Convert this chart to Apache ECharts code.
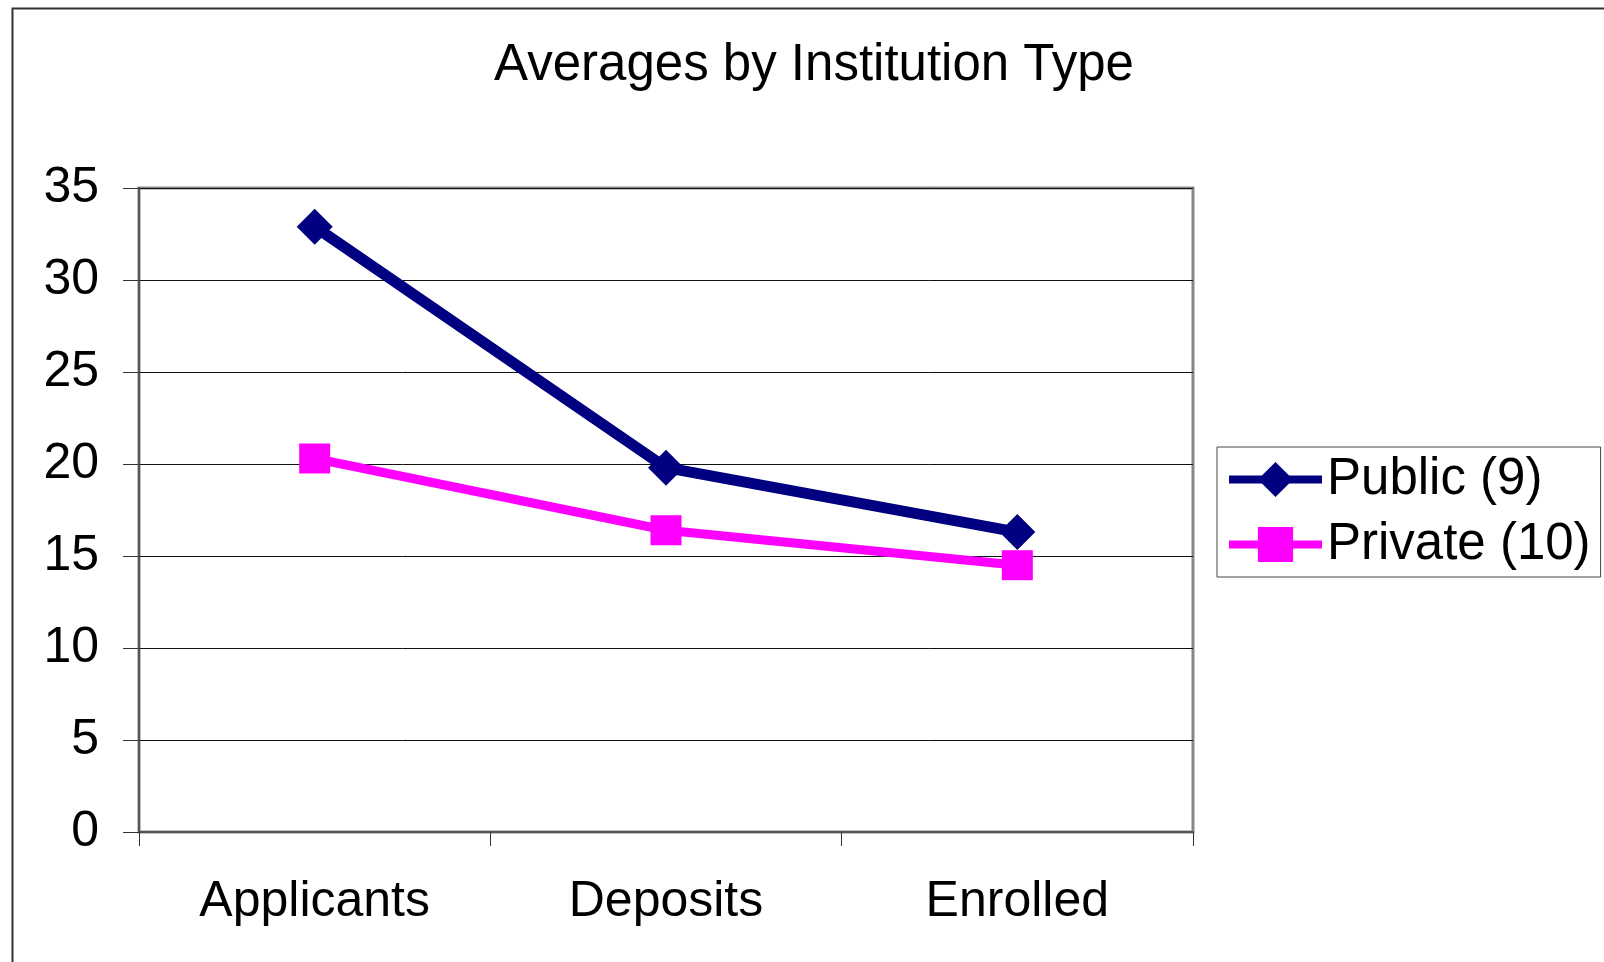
<!DOCTYPE html>
<html>
<head>
<meta charset="utf-8">
<script src="https://cdn.jsdelivr.net/npm/echarts@6/dist/echarts.min.js"></script>
<style>
html,body{margin:0;padding:0;background:#fff;}
#chart{width:1604px;height:962px;}
</style>
</head>
<body>
<div id="chart"></div>
<script>
const categories = ['Applicants', 'Deposits', 'Enrolled'];
const publicValues = [32.9, 19.8, 16.3];
const privateValues = [20.3, 16.4, 14.5];
const seriesNames = ['Public (9)', 'Private (10)'];
const titleText = 'Averages by Institution Type';

const FONT = '"Liberation Sans", Arial, sans-serif';
const chart = echarts.init(document.getElementById('chart'), null, {renderer: 'canvas'});
chart.setOption({
  backgroundColor: '#fff',
  animation: false,
  title: {
    text: titleText,
    left: 809,
    top: 36,
    textAlign: 'center',
    textStyle: {fontFamily: FONT, fontSize: 51, fontWeight: 'normal', color: '#000', lineHeight: 50}
  },
  graphic: [{
    type: 'rect', left: 10, top: 6, z: -1,
    shape: {x: 0, y: 0, width: 1610, height: 980},
    style: {fill: 'none', stroke: '#333', lineWidth: 2}
  }],
  legend: {
    orient: 'vertical',
    left: 1217,
    top: 447,
    padding: [7, 10, 7, 8],
    itemGap: 14,
    itemWidth: 93,
    itemHeight: 44,
    borderColor: '#444',
    borderWidth: 1,
    backgroundColor: '#fff',
    lineStyle: {width: 8},
    textStyle: {fontFamily: FONT, fontSize: 51, color: '#000', lineHeight: 50, padding: [0, 0, 0, 0]},
    data: seriesNames
  },
  grid: {
    left: 139, right: 411, top: 188, bottom: 130,
    show: true, borderColor: '#888', borderWidth: 3, backgroundColor: '#fff',
    containLabel: false
  },
  xAxis: {
    type: 'category',
    data: categories,
    boundaryGap: true,
    axisLine: {show: true, lineStyle: {color: '#555', width: 2}},
    axisTick: {show: true, length: 14, inside: false, lineStyle: {color: '#333', width: 1}},
    axisLabel: {fontFamily: FONT, fontSize: 50, color: '#000', margin: 45, lineHeight: 50},
    splitLine: {show: false}
  },
  yAxis: {
    type: 'value',
    min: 0, max: 35, interval: 5,
    axisLine: {show: true, lineStyle: {color: '#555', width: 2}},
    axisTick: {show: true, length: 16, inside: false, lineStyle: {color: '#333', width: 1}},
    axisLabel: {fontFamily: FONT, fontSize: 50, color: '#000', margin: 40},
    splitLine: {show: true, lineStyle: {color: '#111', width: 1}}
  },
  series: [
    {
      name: seriesNames[0],
      type: 'line',
      data: publicValues,
      symbol: 'diamond',
      symbolSize: 36,
      color: '#000080',
      lineStyle: {color: '#000080', width: 11},
      itemStyle: {color: '#000080'},
      z: 3
    },
    {
      name: seriesNames[1],
      type: 'line',
      data: privateValues,
      symbol: 'rect',
      symbolSize: [31, 30],
      color: '#ff00ff',
      lineStyle: {color: '#ff00ff', width: 9},
      itemStyle: {color: '#ff00ff'},
      z: 2
    }
  ]
});
</script>
</body>
</html>
